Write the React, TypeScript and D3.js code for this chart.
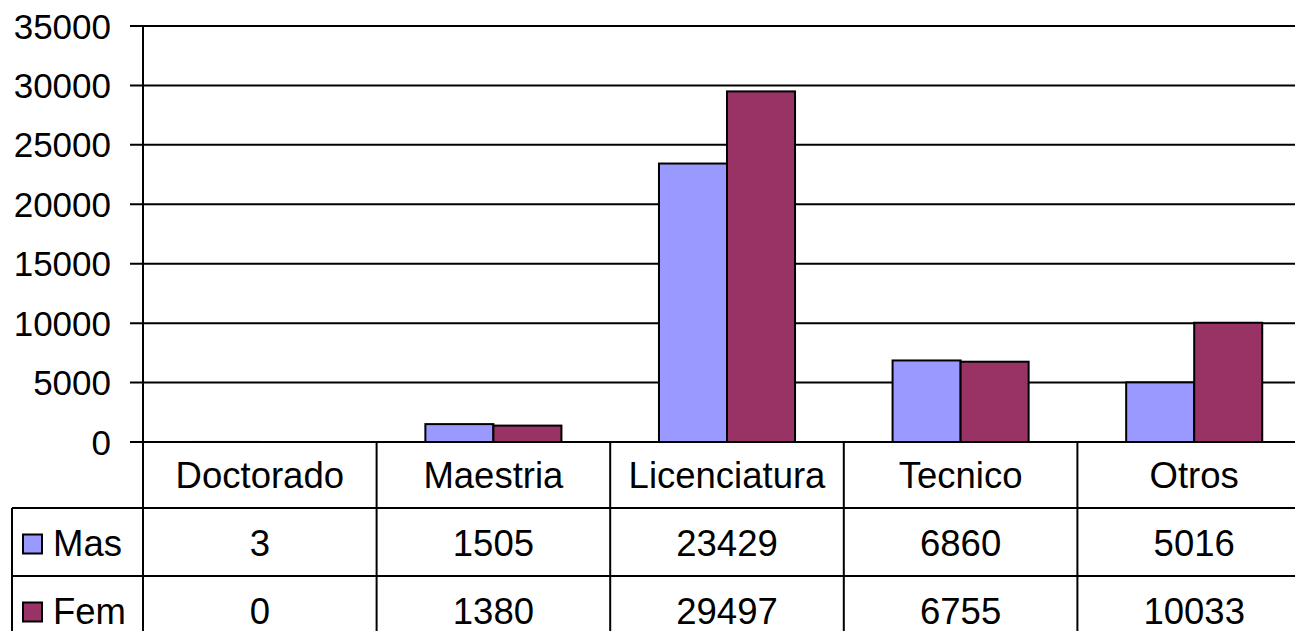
import React from "react";
import * as d3 from "d3";

const categories = ["Doctorado", "Maestria", "Licenciatura", "Tecnico", "Otros"];
const seriesNames = ["Mas", "Fem"];
const masValues = [3, 1505, 23429, 6860, 5016];
const femValues = [0, 1380, 29497, 6755, 10033];
const yTicks = [0, 5000, 10000, 15000, 20000, 25000, 30000, 35000];
const colors = ["#9999FF", "#993366"];

const W = 1295;
const H = 631;
const FONT = "'Liberation Sans', Arial, sans-serif";
const FS_TICK = 35;
const FS = 36.5;

export default function App() {
  const left = 143;
  const right = 1311;
  const top = 26;
  const bottom = 442;
  const tableLeft = 12;
  const rowH = 67;
  const row1 = bottom + 66; // 508
  const row2 = row1 + 68; // 576
  const row3 = row2 + 68;

  const x = d3.scaleBand<string>().domain(categories).range([left, right]).padding(0);
  const xs = d3
    .scaleBand<string>()
    .domain(seriesNames)
    .range([0, x.bandwidth()])
    .paddingInner(0)
    .paddingOuter(0.717);
  const y = d3.scaleLinear().domain([0, 35000]).range([bottom, top]);
  const series = [masValues, femValues];

  return (
    <div style={{ position: "fixed", left: 0, top: 0, width: W, height: H, overflow: "hidden", background: "#fff" }}>
      <svg width={W} height={H} style={{ display: "block" }} fontFamily={FONT}>
        <rect x={0} y={0} width={W} height={H} fill="#fff" />
        {yTicks.map((t) => (
          <g key={t}>
            <line x1={130} x2={right} y1={y(t)} y2={y(t)} stroke="#000" strokeWidth={2} />
            <text x={111} y={y(t)} dy="0.36em" textAnchor="end" fontSize={FS_TICK} fill="#000">
              {t}
            </text>
          </g>
        ))}
        {categories.map((c, ci) =>
          seriesNames.map((s, si) => {
            const v = series[si][ci];
            const bx = (x(c) as number) + (xs(s) as number);
            return (
              <rect
                key={c + s}
                x={bx}
                y={y(v)}
                width={xs.bandwidth()}
                height={bottom - y(v)}
                fill={colors[si]}
                stroke="#000"
                strokeWidth={2}
              />
            );
          })
        )}
        <line x1={left} x2={left} y1={top} y2={H} stroke="#000" strokeWidth={2} />
        <line x1={130} x2={right} y1={bottom} y2={bottom} stroke="#000" strokeWidth={2} />
        {categories.map((c) => (
          <line
            key={"v" + c}
            x1={(x(c) as number) + x.bandwidth()}
            x2={(x(c) as number) + x.bandwidth()}
            y1={bottom}
            y2={H}
            stroke="#000"
            strokeWidth={2}
          />
        ))}
        <line x1={tableLeft} x2={tableLeft} y1={row1} y2={H} stroke="#000" strokeWidth={2} />
        <line x1={tableLeft} x2={right} y1={row1} y2={row1} stroke="#000" strokeWidth={2} />
        <line x1={tableLeft} x2={right} y1={row2} y2={row2} stroke="#000" strokeWidth={2} />
        <line x1={tableLeft} x2={right} y1={row3} y2={row3} stroke="#000" strokeWidth={2} />
        {categories.map((c) => (
          <text
            key={"l" + c}
            x={(x(c) as number) + x.bandwidth() / 2}
            y={(bottom + row1) / 2}
            dy="0.36em"
            textAnchor="middle"
            fontSize={FS}
            fill="#000"
          >
            {c}
          </text>
        ))}
        {seriesNames.map((s, si) => {
          const ry = si === 0 ? row1 : row2;
          const cy = ry + rowH / 2 + 1.5;
          return (
            <g key={"r" + s}>
              <rect x={23} y={cy - 8.5} width={19} height={19} fill={colors[si]} stroke="#000" strokeWidth={2} />
              <text x={53} y={cy} dy="0.36em" fontSize={FS} fill="#000">
                {s}
              </text>
              {categories.map((c, ci) => (
                <text
                  key={s + c}
                  x={(x(c) as number) + x.bandwidth() / 2}
                  y={cy}
                  dy="0.36em"
                  textAnchor="middle"
                  fontSize={FS}
                  fill="#000"
                >
                  {series[si][ci]}
                </text>
              ))}
            </g>
          );
        })}
      </svg>
    </div>
  );
}
